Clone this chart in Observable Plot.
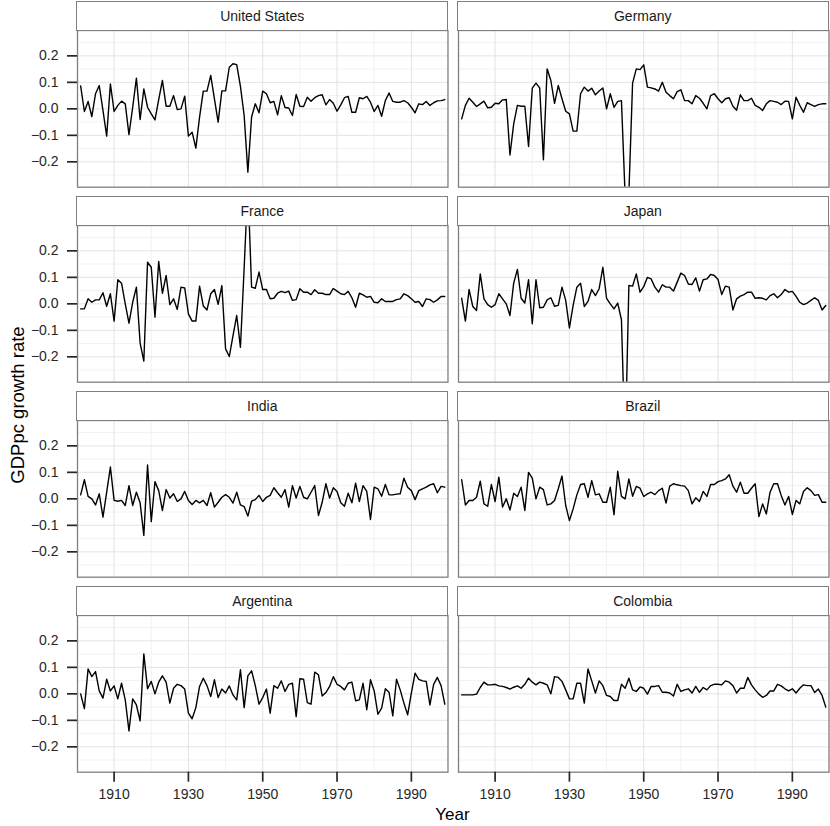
<!DOCTYPE html>
<html>
<head>
<meta charset="utf-8">
<script src="https://cdn.jsdelivr.net/npm/d3@7"></script>
<script src="https://cdn.jsdelivr.net/npm/@observablehq/plot@0.6"></script>
<style>
  html, body { margin: 0; padding: 0; background: #fff; }
  #chart { position: relative; width: 830px; height: 826px; background: #fff; overflow: hidden;
    font-family: 'Liberation Sans', Arial, Helvetica, sans-serif; }
  .panel { position: absolute; }
  .strip { position: absolute; box-sizing: border-box; border: 1.3px solid #7f7f7f; background: #fff;
    font-size: 14px; color: #1a1a1a; text-align: center; line-height: 28px; }
  .title { position: absolute; font-size: 17px; color: #000; line-height: 17px; white-space: nowrap; }
</style>
</head>
<body>
<div id="chart"></div>
<script>
const years = [1901,1902,1903,1904,1905,1906,1907,1908,1909,1910,
1911,1912,1913,1914,1915,1916,1917,1918,1919,1920,
1921,1922,1923,1924,1925,1926,1927,1928,1929,1930,
1931,1932,1933,1934,1935,1936,1937,1938,1939,1940,
1941,1942,1943,1944,1945,1946,1947,1948,1949,1950,
1951,1952,1953,1954,1955,1956,1957,1958,1959,1960,
1961,1962,1963,1964,1965,1966,1967,1968,1969,1970,
1971,1972,1973,1974,1975,1976,1977,1978,1979,1980,
1981,1982,1983,1984,1985,1986,1987,1988,1989,1990,
1991,1992,1993,1994,1995,1996,1997,1998,1999];

const countries = ["United States","Germany","France","Japan","India","Brazil","Argentina","Colombia"];

const unitedStates = [0.086,-0.010,0.028,-0.029,0.057,0.088,-0.006,-0.103,0.094,-0.010,
0.013,0.029,0.019,-0.097,0.006,0.116,-0.040,0.075,0.006,-0.019,
-0.042,0.035,0.107,0.010,0.010,0.050,-0.003,0.000,0.048,-0.103,
-0.088,-0.148,-0.031,0.067,0.067,0.126,0.038,-0.050,0.068,0.068,
0.157,0.170,0.167,0.085,-0.025,-0.239,-0.031,0.019,-0.015,0.067,
0.057,0.023,0.028,-0.023,0.050,0.005,0.003,-0.025,0.054,0.010,
0.009,0.044,0.029,0.042,0.050,0.053,0.015,0.035,0.021,-0.009,
0.015,0.042,0.047,-0.013,-0.013,0.042,0.038,0.047,0.025,-0.010,
0.013,-0.028,0.031,0.060,0.028,0.025,0.025,0.031,0.023,0.006,
-0.015,0.019,0.016,0.028,0.013,0.023,0.030,0.031,0.035];

const germany = [-0.038,0.013,0.040,0.025,0.009,0.019,0.029,0.004,0.006,0.021,
0.019,0.034,0.035,-0.174,-0.057,0.013,0.010,0.010,-0.142,0.078,
0.097,0.079,-0.192,0.151,0.107,0.021,0.088,0.038,-0.009,-0.019,
-0.084,-0.084,0.057,0.082,0.067,0.078,0.053,0.067,0.079,0.000,
0.057,0.006,0.028,0.031,-0.330,-0.320,0.097,0.151,0.148,0.166,
0.082,0.079,0.075,0.067,0.100,0.063,0.050,0.038,0.065,0.072,
0.031,0.031,0.019,0.050,0.040,0.021,0.000,0.050,0.057,0.038,
0.023,0.038,0.042,0.010,-0.005,0.053,0.031,0.031,0.040,0.013,
0.006,-0.006,0.019,0.031,0.028,0.025,0.016,0.029,0.028,-0.038,
0.044,0.013,-0.013,0.023,0.016,0.009,0.016,0.019,0.019];

const france = [-0.019,-0.019,0.019,0.006,0.015,0.015,0.042,-0.009,0.038,-0.065,
0.091,0.078,0.000,-0.073,0.006,0.063,-0.148,-0.216,0.157,0.138,
-0.050,0.160,0.040,0.107,-0.003,0.019,-0.021,0.063,0.060,-0.038,
-0.065,-0.065,0.067,-0.008,-0.023,0.038,0.054,-0.002,0.069,-0.170,
-0.199,-0.120,-0.044,-0.164,0.135,0.450,0.063,0.059,0.120,0.054,
0.054,0.019,0.021,0.040,0.047,0.042,0.048,0.013,0.016,0.057,
0.044,0.044,0.035,0.053,0.040,0.040,0.035,0.035,0.058,0.048,
0.038,0.035,0.047,0.023,-0.013,0.040,0.034,0.025,0.028,0.006,
0.004,0.019,0.009,0.009,0.009,0.016,0.019,0.038,0.031,0.019,
0.006,0.009,-0.010,0.019,0.016,0.006,0.015,0.028,0.028];

const japan = [0.021,-0.065,0.054,-0.010,-0.025,0.113,0.019,-0.003,-0.013,-0.003,
0.038,0.019,0.000,-0.044,0.078,0.130,0.021,0.003,0.091,-0.075,
0.091,-0.015,-0.013,0.015,0.023,-0.009,-0.006,0.063,0.013,-0.091,
-0.006,0.063,0.078,-0.010,0.009,0.054,0.031,0.057,0.138,0.021,
0.000,-0.019,0.003,-0.060,-0.550,0.069,0.067,0.113,0.044,0.065,
0.100,0.094,0.063,0.044,0.072,0.063,0.063,0.048,0.082,0.116,
0.107,0.075,0.073,0.098,0.048,0.091,0.094,0.111,0.107,0.092,
0.035,0.067,0.063,-0.023,0.019,0.029,0.035,0.044,0.044,0.021,
0.023,0.021,0.015,0.031,0.038,0.023,0.035,0.054,0.044,0.047,
0.028,0.006,-0.003,0.003,0.013,0.023,0.013,-0.023,-0.006];

const india = [0.015,0.072,0.009,0.000,-0.023,0.019,-0.069,0.025,0.120,-0.006,
-0.009,-0.006,-0.025,0.050,-0.025,0.025,-0.015,-0.138,0.128,-0.086,
0.065,0.031,-0.044,0.035,0.003,0.019,-0.010,0.000,0.028,-0.006,
-0.021,-0.006,-0.015,-0.006,-0.025,0.023,-0.031,-0.013,0.006,0.016,
0.006,-0.016,0.025,-0.023,-0.029,-0.065,-0.009,-0.003,0.013,-0.010,
0.006,0.013,0.042,0.023,0.006,0.035,-0.031,0.050,0.003,0.047,
0.006,0.000,0.025,0.050,-0.063,-0.013,0.057,0.003,0.042,0.028,
-0.015,-0.028,0.021,-0.015,0.059,-0.010,0.050,0.028,-0.078,0.044,
0.038,0.010,0.054,0.015,0.015,0.018,0.019,0.078,0.044,0.031,
-0.003,0.031,0.038,0.044,0.053,0.057,0.023,0.047,0.044];

const brazil = [0.072,-0.023,-0.006,-0.006,0.006,0.067,-0.019,-0.028,0.054,-0.010,
0.082,-0.031,0.000,-0.042,0.021,0.009,0.044,-0.044,0.100,0.078,
0.000,0.044,0.035,-0.023,-0.019,-0.006,0.038,0.086,-0.025,-0.082,
-0.038,0.015,0.054,0.057,0.006,0.069,0.015,0.019,-0.013,-0.013,
0.044,-0.060,0.104,0.009,0.000,0.075,0.010,0.047,0.040,0.009,
0.019,0.025,0.016,0.031,0.040,-0.016,0.048,0.057,0.053,0.050,
0.048,0.031,-0.019,0.004,-0.010,0.028,0.009,0.054,0.054,0.065,
0.069,0.075,0.091,0.048,0.025,0.063,0.021,0.021,0.040,0.057,
-0.067,-0.019,-0.057,0.025,0.057,0.057,0.013,-0.023,0.009,-0.059,
-0.006,-0.019,0.028,0.042,0.031,0.013,0.016,-0.013,-0.013];

const argentina = [0.000,-0.056,0.094,0.065,0.084,0.011,-0.016,0.055,0.011,0.030,
-0.019,0.040,-0.023,-0.140,-0.019,-0.042,-0.102,0.151,0.019,0.047,
0.000,0.044,0.068,0.044,-0.035,0.021,0.036,0.031,0.018,-0.073,
-0.094,-0.052,0.028,0.059,0.031,-0.010,0.053,-0.014,0.018,0.003,
0.030,-0.004,-0.023,0.091,-0.052,0.068,0.087,0.031,-0.039,-0.014,
0.018,-0.073,0.031,0.021,0.049,0.009,0.036,0.040,-0.086,0.057,
0.055,-0.033,-0.039,0.082,0.072,-0.008,0.005,0.028,0.065,0.036,
0.028,0.015,0.040,0.044,-0.026,-0.023,0.040,-0.060,0.053,0.011,
-0.077,-0.054,0.019,0.006,-0.083,0.055,0.015,-0.035,-0.079,0.003,
0.078,0.055,0.049,0.047,-0.042,0.036,0.062,0.031,-0.039];

const colombia = [-0.004,-0.004,-0.004,-0.004,-0.001,0.024,0.044,0.034,0.034,0.036,
0.030,0.028,0.024,0.018,0.025,0.030,0.021,0.036,0.059,0.044,
0.034,0.044,0.040,0.034,0.000,0.065,0.062,0.047,0.015,-0.019,
-0.019,0.040,0.040,-0.035,0.094,0.049,0.003,0.049,0.031,-0.006,
-0.010,-0.025,-0.025,0.036,0.021,0.059,0.015,0.009,0.026,0.021,
-0.001,0.028,0.028,0.031,0.006,0.006,0.003,-0.008,0.036,0.009,
0.015,0.019,0.003,0.028,0.006,0.024,0.015,0.031,0.036,0.036,
0.034,0.049,0.044,0.031,0.003,0.021,0.021,0.062,0.034,0.015,
-0.001,-0.013,-0.006,0.011,0.011,0.036,0.030,0.019,0.011,0.019,
0.003,0.021,0.034,0.031,0.031,0.005,0.018,-0.006,-0.050];

const seriesValues = [unitedStates, germany, france, japan, india, brazil, argentina, colombia];

const xTicks = [1910, 1930, 1950, 1970, 1990];
const xMinor = [1920, 1940, 1960, 1980];
const yTicks = [-0.2, -0.1, 0, 0.1, 0.2];
const yMinor = [-0.25, -0.15, -0.05, 0.05, 0.15, 0.25];
const xLabel = "Year";
const yLabel = "GDPpc growth rate";

// layout
const fam = "'Liberation Sans', Arial, Helvetica, sans-serif";
const colX = [77, 457.5];
const panelW = 370.5;
const panelH = 156.7;
const rowTop = r => 30 + 195 * r;
const xDomain = [1900.15, 1999.86];
const yDomain = [-0.2957, 0.2957];

const chart = document.getElementById("chart");

countries.forEach((name, k) => {
  const r = Math.floor(k / 2), c = k % 2;
  const vals = seriesValues[k];
  const data = years.map((yr, i) => ({year: yr, g: vals[i]}));
  const ml = c === 0 ? 77 : 2, mr = 2, mt = 2, mb = r === 3 ? 50 : 2;
  const hasY = c === 0, hasX = r === 3;
  const marks = [
    Plot.ruleX(xMinor, {stroke: "#f2f2f2", strokeWidth: 1}),
    Plot.ruleY(yMinor, {stroke: "#f2f2f2", strokeWidth: 1}),
    Plot.ruleX(xTicks, {stroke: "#e3e3e3", strokeWidth: 1}),
    Plot.ruleY(yTicks, {stroke: "#e3e3e3", strokeWidth: 1}),
    Plot.line(data, {x: "year", y: "g", stroke: "#000", strokeWidth: 1.4, clip: true}),
    Plot.frame({stroke: "#7f7f7f", strokeWidth: 1.3})
  ];
  if (hasY) marks.push(Plot.axisY(yTicks, {tickSize: 10, tickPadding: 9, tickFormat: d3.format(".1f"),
    fontSize: 14, strokeWidth: 1.7, label: null}));
  if (hasX) marks.push(Plot.axisX(xTicks, {tickSize: 10, tickPadding: 7, tickFormat: d => String(d),
    fontSize: 14, strokeWidth: 1.7, label: null}));
  const xOpt = {domain: xDomain};
  const yOpt = {domain: yDomain};
  if (!hasX) xOpt.axis = null;
  if (!hasY) yOpt.axis = null;
  const svg = Plot.plot({
    width: ml + panelW + mr,
    height: mt + panelH + mb,
    marginLeft: ml, marginRight: mr, marginTop: mt, marginBottom: mb,
    x: xOpt, y: yOpt,
    style: {fontFamily: fam, fontSize: "14px", color: "#262626", background: "transparent", overflow: "visible"},
    marks
  });
  const wrap = document.createElement("div");
  wrap.className = "panel";
  wrap.style.left = (colX[c] - ml) + "px";
  wrap.style.top = (rowTop(r) - mt) + "px";
  wrap.appendChild(svg);
  chart.appendChild(wrap);

  const strip = document.createElement("div");
  strip.className = "strip";
  strip.style.left = (colX[c] - 0.65) + "px";
  strip.style.top = (rowTop(r) - 29.35) + "px";
  strip.style.width = (panelW + 1.3) + "px";
  strip.style.height = "30px";
  strip.textContent = name;
  chart.appendChild(strip);
});

const xt = document.createElement("div");
xt.className = "title";
xt.textContent = xLabel;
xt.style.left = "0px";
xt.style.width = "830px";
xt.style.paddingLeft = "75px";
xt.style.boxSizing = "border-box";
xt.style.textAlign = "center";
xt.style.top = "806px";
chart.appendChild(xt);

const yt = document.createElement("div");
yt.className = "title";
yt.textContent = yLabel;
yt.style.fontSize = "18.5px";
yt.style.lineHeight = "18.5px";
yt.style.left = "18px";
yt.style.top = "405px";
yt.style.transform = "translate(-50%, -50%) rotate(-90deg)";
chart.appendChild(yt);
</script>
</body>
</html>
